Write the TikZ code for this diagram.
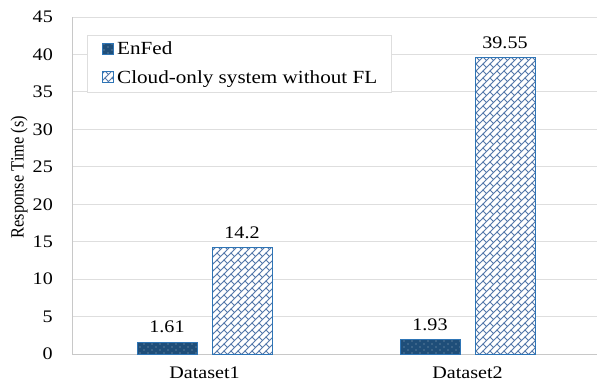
\documentclass[tikz,border=0pt]{standalone}
\usepackage{fontspec}
\setmainfont{Liberation Serif}
\newfontfamily\widefont[FakeStretch=1.14]{Liberation Serif}
\usetikzlibrary{patterns}

\definecolor{enfedblue}{RGB}{31,78,121}
\definecolor{barline}{RGB}{46,117,182}
\definecolor{hatchblue}{RGB}{84,120,170}
\definecolor{gridgray}{RGB}{222,222,222}
\definecolor{axisgray}{RGB}{200,200,200}

\pgfdeclarepatternformonly{enfeddots}{\pgfpoint{-1bp}{-1bp}}{\pgfpoint{9bp}{7bp}}{\pgfpoint{8bp}{6bp}}{%
  \pgfpathrectangle{\pgfpoint{-0.4bp}{-0.4bp}}{\pgfpoint{0.8bp}{0.8bp}}%
  \pgfpathrectangle{\pgfpoint{3.6bp}{2.6bp}}{\pgfpoint{0.8bp}{0.8bp}}%
  \pgfusepath{fill}}

\pgfdeclarepatternformonly{cloudbricks}{\pgfpoint{-1bp}{-1bp}}{\pgfpoint{8bp}{8bp}}{\pgfpoint{7bp}{7bp}}{%
  \pgfsetlinewidth{0.8bp}%
  \pgfpathmoveto{\pgfpoint{-1bp}{-1bp}}\pgfpathlineto{\pgfpoint{8bp}{8bp}}%
  \pgfpathmoveto{\pgfpoint{3.5bp}{3.5bp}}\pgfpathlineto{\pgfpoint{0bp}{7bp}}%
  \pgfusepath{stroke}}

\tikzset{
  chartfont/.style={font=\widefont\fontsize{17.7pt}{20pt}\selectfont},
  keyfont/.style={font=\widefont\fontsize{18.6pt}{21pt}\selectfont},
  gridline/.style={draw=gridgray, line width=0.8bp},
  axisline/.style={draw=axisgray, line width=1bp},
  ticklabel/.style={chartfont, anchor=east, inner sep=0pt},
  catlabel/.style={chartfont, inner sep=0pt},
  vallabel/.style={chartfont, anchor=south, inner sep=0pt, yshift=9bp},
  enfedbar/.style={draw=barline, line width=0.8bp, preaction={fill=enfedblue}, pattern=enfeddots, pattern color=white},
  cloudbar/.style={draw=barline, line width=0.8bp, preaction={fill=white}, pattern=cloudbricks, pattern color=hatchblue},
  legendbox/.style={draw=gridgray, line width=1bp, fill=white},
  keybox/.style={minimum size=11bp, inner sep=0pt},
}

\begin{document}
\begin{tikzpicture}[x=1bp, y=1bp]
    \useasboundingbox (0,0) rectangle (597,386);

    \foreach \v in {5,10,...,45}
        \draw[gridline] (72,{32+\v*7.489}) -- (597,{32+\v*7.489});
    \foreach \v in {0,5,...,45}
        \node[ticklabel] (tick\v) at (53,{32+\v*7.489}) {\v};
    \draw[axisline] (72,32) -- (597,32);
    \draw[axisline] (72,32) -- (72,369);

    \node[rotate=90, inner sep=0pt, font=\fontsize{16.5pt}{18pt}\selectfont] (ytitle) at (19,209) {\scalebox{1}[1.14]{Response Time (s)}};

    \begin{scope}[shift={(0,32)}, y=7.489bp]
        \draw[enfedbar] (137,0) rectangle (197,1.61);
        \draw[cloudbar] (212,0) rectangle (272,14.2);
        \draw[enfedbar] (400,0) rectangle (460,1.93);
        \draw[cloudbar] (475,0) rectangle (535,39.55);

        \node[vallabel] (val11) at (167,1.61) {1.61};
        \node[vallabel] (val12) at (242,14.2) {14.2};
        \node[vallabel] (val21) at (430,1.93) {1.93};
        \node[vallabel] (val22) at (505,39.55) {39.55};
    \end{scope}

    \node[catlabel] (cat1) at (204.5,13) {Dataset1};
    \node[catlabel] (cat2) at (467.5,13) {Dataset2};

    \draw[legendbox] (87,294) rectangle (391,351);
    \node[keybox, enfedbar] (keyA) at (107.5,337) {};
    \node[keybox, cloudbar] (keyB) at (107.5,309) {};
    \node[keyfont, anchor=base west, inner sep=0pt] (legA) at (117,332) {EnFed};
    \node[keyfont, anchor=base west, inner sep=0pt] (legB) at (117,303) {Cloud-only system without FL};
\end{tikzpicture}
\end{document}
